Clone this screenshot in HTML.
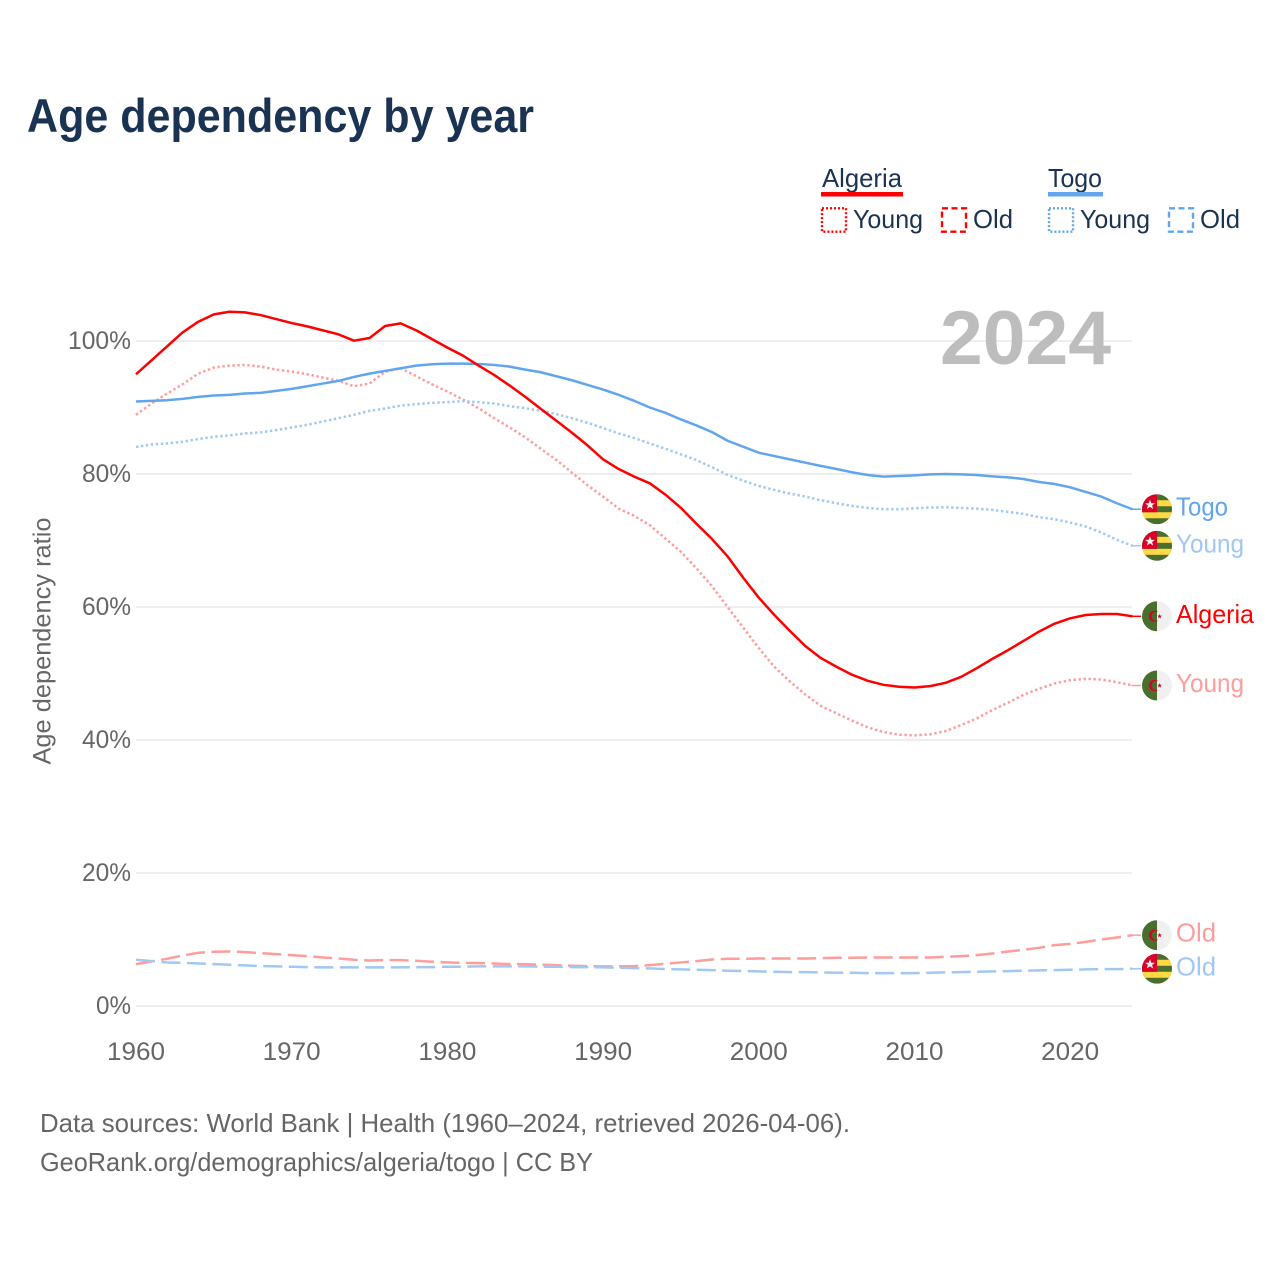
<!DOCTYPE html>
<html lang="en">
<head>
<meta charset="utf-8">
<title>Age dependency by year</title>
<style>
html,body{margin:0;padding:0;background:#fff;}
svg{display:block;font-family:"Liberation Sans",sans-serif;}
.tick{font-size:25px;fill:#666;}
.legend{font-size:26px;fill:#1a3353;}
.foot{font-size:26px;fill:#666;}
</style>
</head>
<body>
<svg id="chart" xmlns="http://www.w3.org/2000/svg" width="1280" height="1280" viewBox="0 0 1280 1280">
  <defs>
    <clipPath id="flag-clip"><circle cx="0" cy="0" r="15"></circle></clipPath>
  </defs>
  <rect x="0" y="0" width="1280" height="1280" fill="#fff"></rect>
  <text x="27" y="132" font-size="47" font-weight="700" fill="#1a3353" textLength="507" lengthAdjust="spacingAndGlyphs">Age dependency by year</text>

  <g>
    <text class="legend" x="822" y="187" textLength="80" lengthAdjust="spacingAndGlyphs">Algeria</text>
    <rect x="821" y="192" width="82" height="4.5" fill="#ff0000"></rect>
    <rect x="822" y="208.3" width="24" height="23.4" fill="none" stroke="#ff0000" stroke-width="2.4" stroke-dasharray="2 2"></rect>
    <text class="legend" x="853" y="228" textLength="70" lengthAdjust="spacingAndGlyphs">Young</text>
    <rect x="942" y="208.3" width="24" height="23.4" fill="none" stroke="#ff0000" stroke-width="2.4" stroke-dasharray="6 3.5"></rect>
    <text class="legend" x="973" y="228" textLength="40" lengthAdjust="spacingAndGlyphs">Old</text>
    <text class="legend" x="1048" y="187" textLength="54" lengthAdjust="spacingAndGlyphs">Togo</text>
    <rect x="1048" y="192" width="55" height="4.5" fill="#60a5ee"></rect>
    <rect x="1049" y="208.3" width="24" height="23.4" fill="none" stroke="#60a5ee" stroke-width="2.4" stroke-dasharray="2 2"></rect>
    <text class="legend" x="1080" y="228" textLength="70" lengthAdjust="spacingAndGlyphs">Young</text>
    <rect x="1169" y="208.3" width="24" height="23.4" fill="none" stroke="#60a5ee" stroke-width="2.4" stroke-dasharray="6 3.5"></rect>
    <text class="legend" x="1200" y="228" textLength="40" lengthAdjust="spacingAndGlyphs">Old</text>
  </g>

  <g id="grid"></g>
  <g id="yticks"></g>
  <g id="xticks"></g>

  <text x="940" y="364" font-size="76" font-weight="700" fill="#bdbdbd" textLength="171" lengthAdjust="spacingAndGlyphs">2024</text>

  <text class="tick" transform="translate(50.5,641) rotate(-90)" text-anchor="middle" textLength="247" lengthAdjust="spacingAndGlyphs">Age dependency ratio</text>

  <g id="lines"></g>
  <g id="ends"></g>

  <text class="foot" x="40" y="1132" textLength="810" lengthAdjust="spacingAndGlyphs">Data sources: World Bank | Health (1960–2024, retrieved 2026-04-06).</text>
  <text class="foot" x="40" y="1171" textLength="553" lengthAdjust="spacingAndGlyphs">GeoRank.org/demographics/algeria/togo | CC BY</text>
</svg>

<script>
const years = [1960,1961,1962,1963,1964,1965,1966,1967,1968,1969,
  1970,1971,1972,1973,1974,1975,1976,1977,1978,1979,
  1980,1981,1982,1983,1984,1985,1986,1987,1988,1989,
  1990,1991,1992,1993,1994,1995,1996,1997,1998,1999,
  2000,2001,2002,2003,2004,2005,2006,2007,2008,2009,
  2010,2011,2012,2013,2014,2015,2016,2017,2018,2019,
  2020,2021,2022,2023,2024];

const algeriaTotal = [95.0,97.1,99.2,101.3,102.9,104.0,104.4,104.3,103.9,103.3,
  102.7,102.2,101.6,101.0,100.05,100.45,102.25,102.65,101.6,100.3,
  99.0,97.8,96.3,94.9,93.3,91.6,89.8,88.0,86.2,84.3,
  82.2,80.75,79.6,78.6,76.9,74.9,72.5,70.2,67.6,64.4,
  61.4,58.8,56.4,54.1,52.3,51.0,49.8,48.9,48.3,48.0,
  47.9,48.1,48.6,49.5,50.8,52.2,53.5,54.9,56.3,57.5,
  58.3,58.8,58.95,58.95,58.6];

const algeriaYoung = [88.9,90.6,92.1,93.5,95.1,96.0,96.3,96.4,96.15,95.7,
  95.4,95.0,94.5,94.0,93.2,93.6,95.4,95.9,94.7,93.5,
  92.4,91.2,89.9,88.4,87.0,85.5,83.8,82.1,80.2,78.3,
  76.6,74.8,73.7,72.3,70.3,68.3,65.8,63.1,60.0,56.9,
  53.8,51.0,48.8,46.8,45.1,44.0,42.9,41.9,41.2,40.8,
  40.7,40.85,41.35,42.25,43.25,44.5,45.6,46.8,47.7,48.5,
  49.0,49.2,49.1,48.7,48.2];

const algeriaOld = [6.3,6.7,7.1,7.6,8.0,8.15,8.2,8.1,7.95,7.8,
  7.65,7.5,7.3,7.15,6.95,6.85,6.9,6.9,6.8,6.65,
  6.55,6.5,6.45,6.4,6.3,6.3,6.2,6.15,6.05,6.0,
  5.95,5.95,6.0,6.15,6.35,6.55,6.75,7.0,7.1,7.1,
  7.15,7.15,7.15,7.15,7.2,7.25,7.25,7.3,7.3,7.3,
  7.3,7.3,7.4,7.5,7.65,7.9,8.2,8.45,8.75,9.15,
  9.35,9.65,10.0,10.3,10.65];

const togoTotal = [90.9,91.0,91.1,91.3,91.6,91.8,91.9,92.1,92.2,92.5,
  92.8,93.2,93.6,94.0,94.6,95.1,95.5,95.9,96.3,96.5,
  96.6,96.6,96.55,96.4,96.15,95.7,95.3,94.7,94.1,93.4,
  92.7,91.9,91.0,90.0,89.2,88.2,87.3,86.3,85.0,84.1,
  83.2,82.7,82.2,81.7,81.2,80.75,80.25,79.85,79.6,79.7,
  79.8,79.95,80.0,79.95,79.85,79.65,79.5,79.25,78.8,78.5,
  78.0,77.3,76.6,75.6,74.7];

const togoYoung = [84.05,84.45,84.6,84.85,85.25,85.6,85.8,86.1,86.25,86.6,
  87.0,87.4,87.9,88.4,88.9,89.5,89.85,90.3,90.5,90.7,
  90.8,90.95,90.8,90.6,90.2,89.9,89.5,89.0,88.4,87.7,
  86.9,86.1,85.4,84.6,83.8,82.95,82.1,81.0,79.85,79.0,
  78.2,77.6,77.05,76.6,76.05,75.6,75.2,74.9,74.7,74.7,
  74.85,74.95,75.0,74.9,74.8,74.6,74.3,74.0,73.5,73.2,
  72.7,72.1,71.2,70.1,69.2];

const togoOld = [6.95,6.75,6.55,6.5,6.4,6.3,6.2,6.1,6.0,5.95,
  5.9,5.85,5.8,5.8,5.8,5.8,5.8,5.8,5.85,5.85,
  5.9,5.9,5.95,5.95,5.95,5.95,5.9,5.9,5.85,5.85,
  5.8,5.75,5.7,5.65,5.55,5.5,5.45,5.4,5.3,5.25,
  5.2,5.15,5.1,5.1,5.05,5.0,5.0,4.95,4.95,4.95,
  4.95,5.0,5.05,5.1,5.15,5.2,5.25,5.3,5.35,5.4,
  5.45,5.5,5.55,5.55,5.6];

const yTickValues = [0,20,40,60,80,100];
const xTickValues = [1960,1970,1980,1990,2000,2010,2020];

const NS = 'http://www.w3.org/2000/svg';
function xScale(year){ return 136 + (year - 1960) * 15.57; }
function yScale(v){ return 1006 - v * 6.65; }
function make(tag, parent){
  const el = document.createElementNS(NS, tag);
  parent.appendChild(el);
  return el;
}

const gridLayer = document.getElementById('grid');
const yTickLayer = document.getElementById('yticks');
const xTickLayer = document.getElementById('xticks');
const lineLayer = document.getElementById('lines');
const endLayer = document.getElementById('ends');

yTickValues.forEach(function(v){
  const line = make('line', gridLayer);
  
  
  line.setAttribute('x1', xScale(1960));
  line.setAttribute('x2', 1132);
  line.setAttribute('y1', yScale(v));
  line.setAttribute('y2', yScale(v));
  line.setAttribute('stroke', '#eeeeee');
  line.setAttribute('stroke-width', '2');
  const label = make('text', yTickLayer);
  
  
  label.setAttribute('class', 'tick');
  label.setAttribute('x', 131);
  label.setAttribute('y', yScale(v) + 8);
  label.setAttribute('text-anchor', 'end');
  label.setAttribute('textLength', v === 100 ? 63 : (v === 0 ? 35 : 49));
  label.setAttribute('lengthAdjust', 'spacingAndGlyphs');
  label.textContent = v + '%';
});

xTickValues.forEach(function(yr){
  const label = make('text', xTickLayer);
  
  
  label.setAttribute('class', 'tick');
  label.setAttribute('x', xScale(yr));
  label.setAttribute('y', 1060);
  label.setAttribute('text-anchor', 'middle');
  label.setAttribute('textLength', 58);
  label.setAttribute('lengthAdjust', 'spacingAndGlyphs');
  label.textContent = String(yr);
});

function drawLine(values, color, dash, width, name){
  const path = make('path', lineLayer);
  
  
  let d = '';
  values.forEach(function(v, i){
    d += (i ? 'L' : 'M') + xScale(years[i]).toFixed(2) + ' ' + yScale(v).toFixed(2);
  });
  path.setAttribute('d', d);
  path.setAttribute('fill', 'none');
  path.setAttribute('stroke', color);
  path.setAttribute('stroke-width', width);
  path.setAttribute('stroke-linejoin', 'round');
  if (dash) path.setAttribute('stroke-dasharray', dash);
  const lastV = values[values.length - 1];
  const leader = make('line', lineLayer);
  
  
  leader.setAttribute('x1', xScale(years[years.length - 1]) - 1);
  leader.setAttribute('x2', 1141);
  leader.setAttribute('y1', yScale(lastV));
  leader.setAttribute('y2', yScale(lastV));
  leader.setAttribute('stroke', color);
  leader.setAttribute('stroke-width', '1.5');
}

drawLine(algeriaOld, '#ff9c9c', '19 6.5', 2.5, 'line-algeria-old');
drawLine(togoOld, '#a0c8f3', '19 6.5', 2.5, 'line-togo-old');
drawLine(algeriaYoung, '#ff9c9c', '2.4 2.6', 2.5, 'line-algeria-young');
drawLine(togoYoung, '#a0c8f3', '2.4 2.6', 2.5, 'line-togo-young');
drawLine(togoTotal, '#60a5ee', null, 2.5, 'line-togo-total');
drawLine(algeriaTotal, '#ff0000', null, 2.5, 'line-algeria-total');

function rect(g, x, y, w, h, fill){
  const r = make('rect', g);
  
  
  r.setAttribute('x', x);
  r.setAttribute('y', y);
  r.setAttribute('width', w);
  r.setAttribute('height', h);
  r.setAttribute('fill', fill);
}

function togoFlag(parent, cy){
  const g = make('g', parent);
  
  
  g.setAttribute('transform', 'translate(1157,' + cy + ')');
  g.setAttribute('clip-path', 'url(#flag-clip)');
  rect(g, -15, -15, 30, 30, '#496e2d');
  rect(g, -15, -9, 30, 6, '#ffda44');
  rect(g, -15, 3, 30, 6, '#ffda44');
  rect(g, -15, -15, 15, 18, '#d80027');
  const star = make('polygon', g);
  
  
  star.setAttribute('points', '-7,-9.5 -5.6,-6 -2,-6 -4.9,-3.8 -3.8,-0.2 -7,-2.4 -10.2,-0.2 -9.1,-3.8 -12,-6 -8.4,-6');
  star.setAttribute('fill', '#f0f0f0');
}

function algeriaFlag(parent, cy){
  const g = make('g', parent);
  
  
  g.setAttribute('transform', 'translate(1157,' + cy + ')');
  g.setAttribute('clip-path', 'url(#flag-clip)');
  rect(g, -15, -15, 15, 30, '#496e2d');
  rect(g, 0, -15, 15, 30, '#f0f0f0');
  const moon = make('path', g);
  
  
  moon.setAttribute('d', 'M1.5 -4 A5.6 5.6 0 1 0 1.5 4 A4.6 4.6 0 1 1 1.5 -4 Z');
  moon.setAttribute('fill', '#d80027');
  const star = make('polygon', g);
  
  
  star.setAttribute('points', '2.6,-2.4 3.2,-0.7 5,-0.7 3.6,0.4 4.1,2.2 2.6,1.1 1.1,2.2 1.6,0.4 0.2,-0.7 2,-0.7');
  star.setAttribute('fill', '#d80027');
}

function endLabel(values, flagFn, text, color, widthPx, name){
  const cy = yScale(values[values.length - 1]);
  flagFn(endLayer, cy);
  const label = make('text', endLayer);
  
  
  label.setAttribute('x', 1176);
  label.setAttribute('y', cy + 6.5);
  label.setAttribute('font-size', '26');
  label.setAttribute('fill', color);
  label.setAttribute('textLength', widthPx);
  label.setAttribute('lengthAdjust', 'spacingAndGlyphs');
  label.textContent = text;
}

endLabel(togoTotal, togoFlag, 'Togo', '#60a5ee', 52, 'end-label-togo-total');
endLabel(togoYoung, togoFlag, 'Young', '#a0c8f3', 68, 'end-label-togo-young');
endLabel(algeriaTotal, algeriaFlag, 'Algeria', '#ff0000', 78, 'end-label-algeria-total');
endLabel(algeriaYoung, algeriaFlag, 'Young', '#ff9c9c', 68, 'end-label-algeria-young');
endLabel(algeriaOld, algeriaFlag, 'Old', '#ff9c9c', 40, 'end-label-algeria-old');
endLabel(togoOld, togoFlag, 'Old', '#a0c8f3', 40, 'end-label-togo-old');
</script>
</body>
</html>
